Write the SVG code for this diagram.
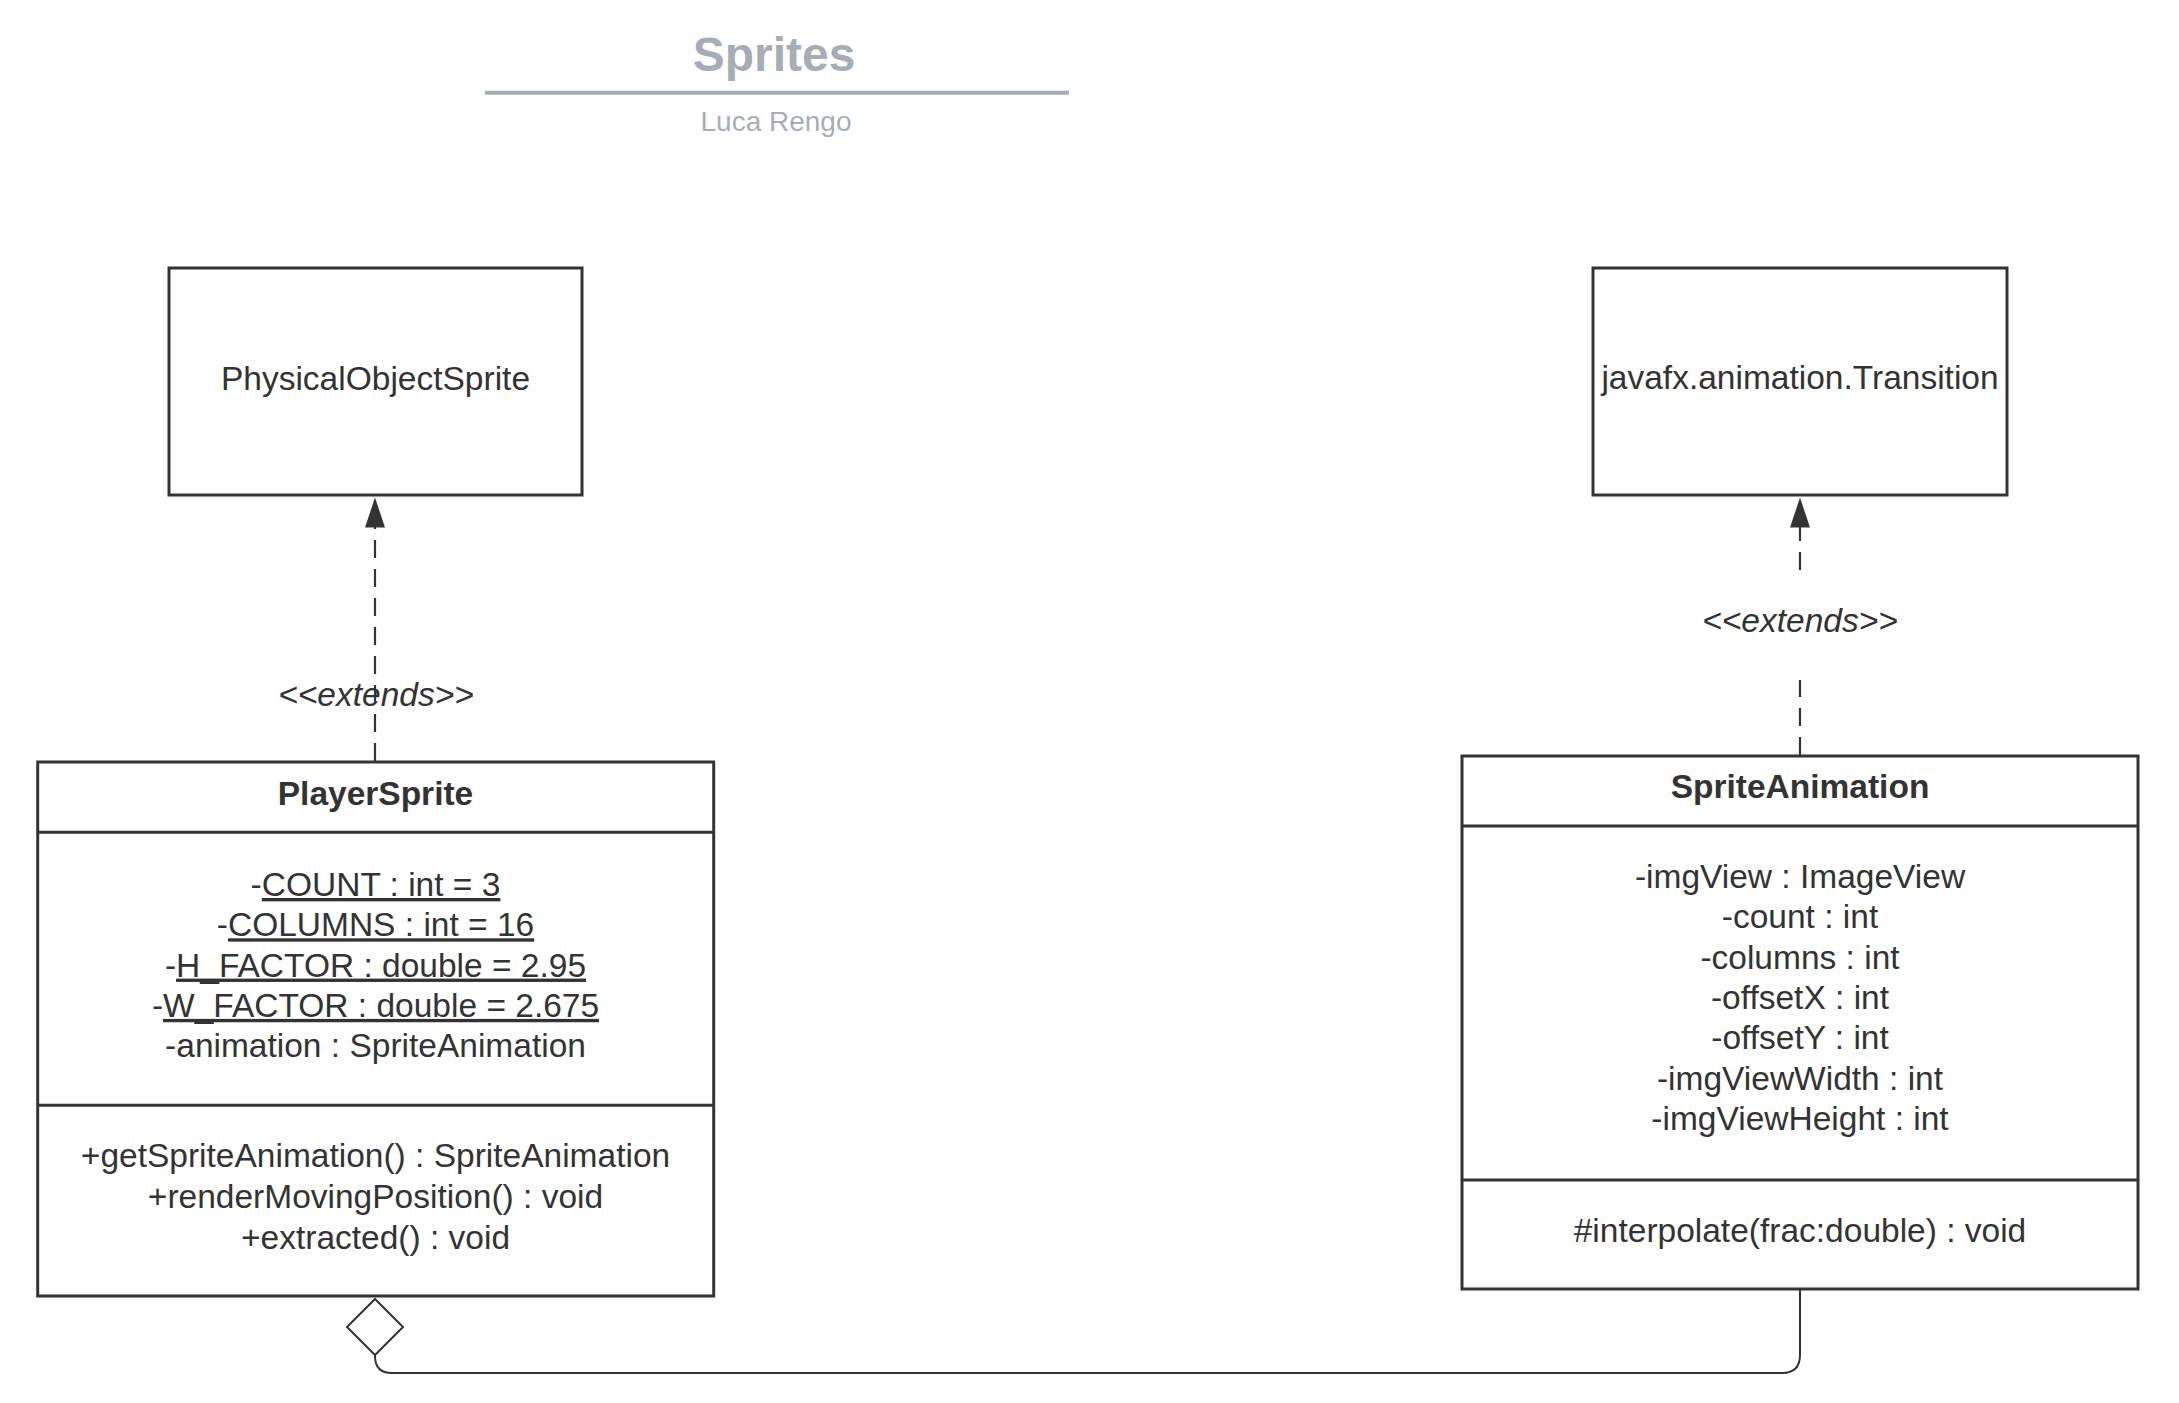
<svg xmlns="http://www.w3.org/2000/svg" width="2179" height="1403" viewBox="0 0 2179 1403">
  <style>
    .box { fill: #ffffff; stroke: #333333; stroke-width: 3; }
    .sep { stroke: #333333; stroke-width: 3; fill: none; }
    .txt { font-family: "Liberation Sans", Arial, sans-serif; font-size: 33.5px; fill: #333333; text-anchor: middle; }
    .bold { font-weight: bold; }
    .ital { font-style: italic; }
    .u { text-decoration: underline; }
    .dash { stroke: #333333; stroke-width: 2.2; fill: none; stroke-dasharray: 18 11; }
    .line { stroke: #333333; stroke-width: 2; fill: none; }
    .title { font-family: "Liberation Sans", Arial, sans-serif; fill: #a7adb7; text-anchor: middle; }
  </style>
  <rect width="2179" height="1403" fill="#ffffff"/>

  <g id="title">
    <text class="title" x="774" y="71" font-size="48" font-weight="bold">Sprites</text>
    <line x1="485" y1="92.7" x2="1069" y2="92.7" stroke="#a7adb7" stroke-width="4"/>
    <text class="title" x="776" y="131" font-size="28">Luca Rengo</text>
  </g>

  <g id="connectors">
    <!-- PlayerSprite extends PhysicalObjectSprite -->
    <line class="dash" x1="375" y1="761" x2="375" y2="527"/>
    <path d="M375,497.5 L385,527.5 L365,527.5 Z" fill="#333333"/>
    <text class="txt ital" x="376" y="705.5">&lt;&lt;extends&gt;&gt;</text>
    <!-- SpriteAnimation extends Transition -->
    <line class="dash" x1="1800" y1="755" x2="1800" y2="680"/>
    <line class="dash" x1="1800" y1="570" x2="1800" y2="527"/>
    <path d="M1800,497.5 L1810,527.5 L1790,527.5 Z" fill="#333333"/>
    <text class="txt ital" x="1800" y="632">&lt;&lt;extends&gt;&gt;</text>
    <!-- aggregation -->
    <path class="line" d="M375,1355 L375,1356 Q375,1373 392,1373 L1782,1373 Q1800,1373 1800,1355 L1800,1290"/>
    <path d="M375,1299 L403,1327 L375,1355 L347,1327 Z" fill="#ffffff" stroke="#333333" stroke-width="2"/>
  </g>

  <g id="PhysicalObjectSprite">
    <rect class="box" x="169" y="268" width="413" height="227"/>
    <text class="txt" x="375.5" y="389.5">PhysicalObjectSprite</text>
  </g>

  <g id="Transition">
    <rect class="box" x="1593" y="268" width="414" height="227"/>
    <text class="txt" x="1800" y="388.5">javafx.animation.Transition</text>
  </g>

  <g id="PlayerSprite">
    <rect class="box" x="37.7" y="762" width="676" height="534"/>
    <line class="sep" x1="37.7" y1="832.3" x2="713.7" y2="832.3"/>
    <line class="sep" x1="37.7" y1="1105.3" x2="713.7" y2="1105.3"/>
    <text class="txt bold" x="375.5" y="805">PlayerSprite</text>
    <text class="txt" x="375.5" y="896">-<tspan class="u">COUNT : int = 3</tspan></text>
    <text class="txt" x="375.5" y="936.3">-<tspan class="u">COLUMNS : int = 16</tspan></text>
    <text class="txt" x="375.5" y="976.6">-<tspan class="u">H_FACTOR : double = 2.95</tspan></text>
    <text class="txt" x="375.5" y="1016.9">-<tspan class="u">W_FACTOR : double = 2.675</tspan></text>
    <text class="txt" x="375.5" y="1057.2">-animation : SpriteAnimation</text>
    <text class="txt" x="375.5" y="1167">+getSpriteAnimation() : SpriteAnimation</text>
    <text class="txt" x="375.5" y="1207.6">+renderMovingPosition() : void</text>
    <text class="txt" x="375.5" y="1248.6">+extracted() : void</text>
  </g>

  <g id="SpriteAnimation">
    <rect class="box" x="1462" y="756" width="676" height="533"/>
    <line class="sep" x1="1462" y1="826" x2="2138" y2="826"/>
    <line class="sep" x1="1462" y1="1180" x2="2138" y2="1180"/>
    <text class="txt bold" x="1800" y="798">SpriteAnimation</text>
    <text class="txt" x="1800" y="888">-imgView : ImageView</text>
    <text class="txt" x="1800" y="928.3">-count : int</text>
    <text class="txt" x="1800" y="968.6">-columns : int</text>
    <text class="txt" x="1800" y="1008.9">-offsetX : int</text>
    <text class="txt" x="1800" y="1049.2">-offsetY : int</text>
    <text class="txt" x="1800" y="1089.5">-imgViewWidth : int</text>
    <text class="txt" x="1800" y="1129.8">-imgViewHeight : int</text>
    <text class="txt" x="1800" y="1242">#interpolate(frac:double) : void</text>
  </g>
</svg>
